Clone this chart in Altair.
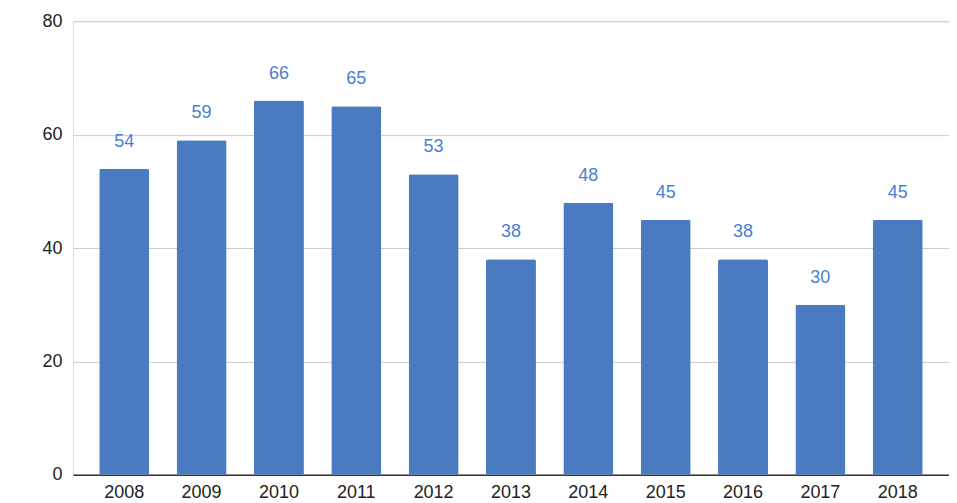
import altair as alt
import pandas as pd

years = ["2008", "2009", "2010", "2011", "2012", "2013", "2014", "2015", "2016", "2017", "2018"]
values = [54, 59, 66, 65, 53, 38, 48, 45, 38, 30, 45]

df = pd.DataFrame({"year": years, "value": values})

bar_color = "#4a7bc0"
label_color = "#4a80d0"

base = alt.Chart(df).encode(
    x=alt.X("year:N", sort=years, title=None,
            scale=alt.Scale(paddingInner=0.354, paddingOuter=0.34),
            axis=alt.Axis(labelAngle=0, ticks=False, domainColor="#333333", domainWidth=1.5,
                          labelFontSize=18, labelColor="#222222", labelPadding=9,
                          labelFont="Liberation Sans", grid=False)),
    y=alt.Y("value:Q", title=None,
            scale=alt.Scale(domain=[0, 80]),
            axis=alt.Axis(values=[0, 20, 40, 60, 80], ticks=False, domain=False,
                          gridColor="#cccccc", labelFontSize=18, labelColor="#222222",
                          labelPadding=11, labelFont="Liberation Sans")),
)

bars = base.mark_bar(color=bar_color, cornerRadiusTopLeft=2, cornerRadiusTopRight=2)
text = base.mark_text(color=label_color, fontSize=18, font="Liberation Sans",
                      baseline="bottom", dy=-18).encode(text="value:Q")

chart = (bars + text).properties(
    width=877, height=454,
    padding={"left": 65, "top": 13, "right": 0, "bottom": 27},
    autosize=alt.AutoSizeParams(type="none"),
).configure_view(stroke=None).configure(background="white")

chart.save("out.html", embed_options={"renderer": "svg", "actions": False})
